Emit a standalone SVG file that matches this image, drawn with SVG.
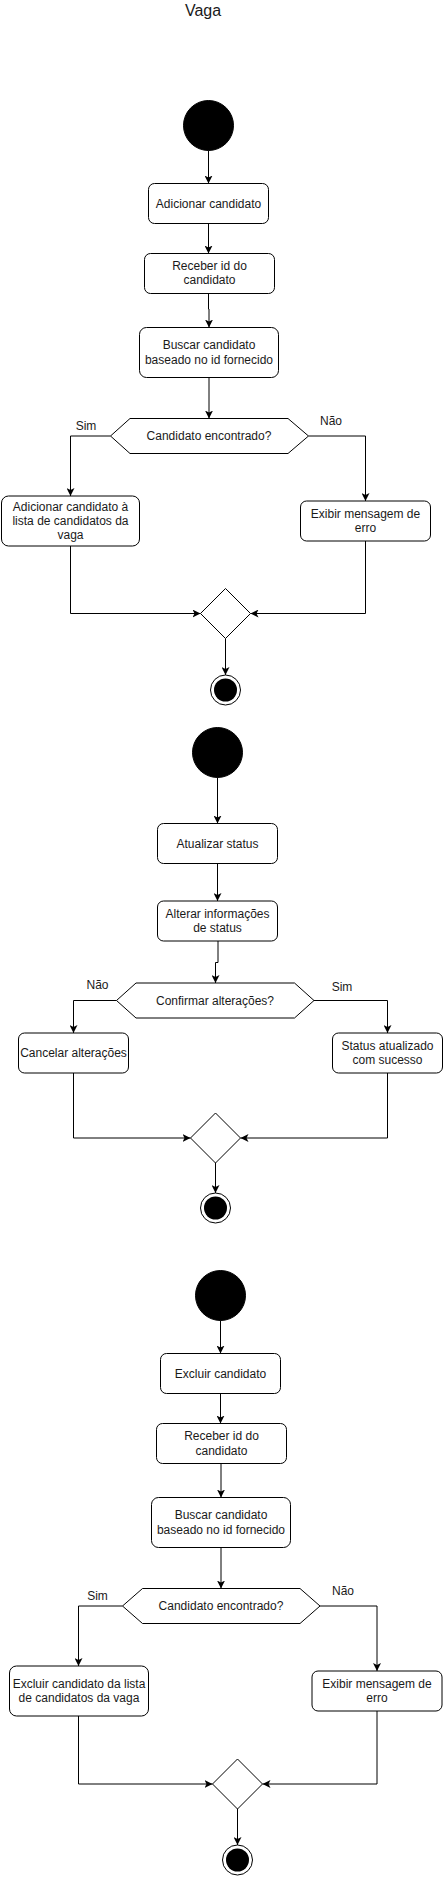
<svg xmlns="http://www.w3.org/2000/svg" width="443" height="1877" viewBox="0 0 443 1877">
<style>
.box{fill:#fff;stroke:#000;stroke-width:1}
.dec{fill:#fff;stroke:#000;stroke-width:1}
.start{fill:#000;stroke:#000;stroke-width:1}
.endo{fill:#fff;stroke:#000;stroke-width:1}
.endi{fill:#000;stroke:none}
.t{font-family:"Liberation Sans",Arial,sans-serif;font-size:12px;fill:#1a1a1a;text-anchor:middle}
.title{font-family:"Liberation Sans",Arial,sans-serif;font-size:16px;fill:#1a1a1a;text-anchor:middle}
.c{fill:none;stroke:#000;stroke-width:1}
.ca{fill:none;stroke:#000;stroke-width:1;marker-end:url(#arr)}
</style>
<defs>
<marker id="arr" markerUnits="userSpaceOnUse" viewBox="0 0 8 8" markerWidth="8" markerHeight="8" refX="8" refY="4" orient="auto">
<path d="M0,0 L8,4 L0,8 L2,4 z" fill="#000"/>
</marker>
</defs>
<rect width="443" height="1877" fill="#fff"/>
<text class="title" x="203" y="16">Vaga</text>

<g id="connectors">
<path class="ca" d="M208.5,150.5 V183.5"/>
<path class="ca" d="M208.5,223.5 V253.5"/>
<path class="ca" d="M208.5,293.5 V309 H209 V327.5"/>
<path class="ca" d="M209,377.5 V418.5"/>
<path class="ca" d="M110.5,436 H70.5 V496"/>
<path class="ca" d="M308.5,436 H365.5 V501"/>
<path class="ca" d="M70.5,546 V613.5 H200.5"/>
<path class="ca" d="M365.5,541 V613.5 H250.5"/>
<path class="ca" d="M225.5,638.5 V675"/>

<path class="ca" d="M217.5,777.5 V823.5"/>
<path class="ca" d="M217.5,863.5 V901"/>
<path class="ca" d="M218,941 V962.5 H215.5 V983"/>
<path class="ca" d="M116.5,1000.5 H73.5 V1033"/>
<path class="ca" d="M314,1000.5 H387.5 V1033"/>
<path class="ca" d="M73.5,1073 V1138 H190.5"/>
<path class="ca" d="M387.5,1073 V1138 H240.5"/>
<path class="ca" d="M215.5,1163 V1193"/>

<path class="ca" d="M220.5,1320.5 V1353.5"/>
<path class="ca" d="M220.5,1393.5 V1423.5"/>
<path class="ca" d="M221,1463.5 V1497.5"/>
<path class="ca" d="M221,1547.5 V1588.5"/>
<path class="ca" d="M122.5,1606 H78.5 V1666"/>
<path class="ca" d="M320,1606 H377 V1671"/>
<path class="ca" d="M78.5,1716 V1784 H212.5"/>
<path class="ca" d="M377,1711 V1784 H262.5"/>
<path class="ca" d="M237.5,1809 V1845"/>
</g>

<g id="labels">
<text class="t" x="86" y="430">Sim</text>
<text class="t" x="331" y="425">Não</text>
<text class="t" x="97.5" y="989">Não</text>
<text class="t" x="342" y="991">Sim</text>
<text class="t" x="97.5" y="1600">Sim</text>
<text class="t" x="343" y="1595">Não</text>
</g>

<g id="start1"><circle class="start" cx="208.5" cy="125.5" r="25"/></g>
<g id="a1"><rect class="box" x="148.5" y="183.5" width="120" height="40" rx="6"/><text class="t" x="208.5" y="207.5">Adicionar candidato</text></g>
<g id="a2"><rect class="box" x="144.5" y="253.5" width="130" height="40" rx="6"/><text class="t" x="209.5" y="269.8">Receber id do</text><text class="t" x="209.5" y="284.2">candidato</text></g>
<g id="a3"><rect class="box" x="139.5" y="327.5" width="139" height="50" rx="7"/><text class="t" x="209" y="349.3">Buscar candidato</text><text class="t" x="209" y="363.7">baseado no id fornecido</text></g>
<g id="d1"><polygon class="dec" points="110.5,436 130,418.5 288,418.5 308.5,436 288,453.5 130,453.5"/><text class="t" x="209" y="440">Candidato encontrado?</text></g>
<g id="a4"><rect class="box" x="1.5" y="496" width="138" height="50" rx="7"/><text class="t" x="70.5" y="510.6">Adicionar candidato à</text><text class="t" x="70.5" y="525">lista de candidatos da</text><text class="t" x="70.5" y="539.4">vaga</text></g>
<g id="a5"><rect class="box" x="300.5" y="501" width="130" height="40" rx="6"/><text class="t" x="365.5" y="517.8">Exibir mensagem de</text><text class="t" x="365.5" y="532.2">erro</text></g>
<g id="m1"><polygon class="dec" points="225.5,588.5 250.5,613.5 225.5,638.5 200.5,613.5"/></g>
<g id="end1"><circle class="endo" cx="225.5" cy="690" r="15"/><circle class="endi" cx="225.5" cy="690" r="11.5"/></g>

<g id="start2"><circle class="start" cx="217.5" cy="752.5" r="25"/></g>
<g id="b1"><rect class="box" x="157.5" y="823.5" width="120" height="40" rx="6"/><text class="t" x="217.5" y="847.5">Atualizar status</text></g>
<g id="b2"><rect class="box" x="157.5" y="901" width="120" height="40" rx="6"/><text class="t" x="217.5" y="917.8">Alterar informações</text><text class="t" x="217.5" y="932.2">de status</text></g>
<g id="d2"><polygon class="dec" points="116.5,1000.5 136,983 294.5,983 314,1000.5 294.5,1018 136,1018"/><text class="t" x="215" y="1004.5">Confirmar alterações?</text></g>
<g id="b3"><rect class="box" x="18.5" y="1033" width="110" height="40" rx="6"/><text class="t" x="73.5" y="1057">Cancelar alterações</text></g>
<g id="b4"><rect class="box" x="332.5" y="1033" width="110" height="40" rx="6"/><text class="t" x="387.5" y="1049.8">Status atualizado</text><text class="t" x="387.5" y="1064.2">com sucesso</text></g>
<g id="m2"><polygon class="dec" points="215.5,1113 240.5,1138 215.5,1163 190.5,1138"/></g>
<g id="end2"><circle class="endo" cx="215.5" cy="1208" r="15"/><circle class="endi" cx="215.5" cy="1208" r="11.5"/></g>

<g id="start3"><circle class="start" cx="220.5" cy="1295.5" r="25"/></g>
<g id="c1"><rect class="box" x="160.5" y="1353.5" width="120" height="40" rx="6"/><text class="t" x="220.5" y="1377.5">Excluir candidato</text></g>
<g id="c2"><rect class="box" x="156.5" y="1423.5" width="130" height="40" rx="6"/><text class="t" x="221.5" y="1440.3">Receber id do</text><text class="t" x="221.5" y="1454.7">candidato</text></g>
<g id="c3"><rect class="box" x="151.5" y="1497.5" width="139" height="50" rx="7"/><text class="t" x="221" y="1519.3">Buscar candidato</text><text class="t" x="221" y="1533.7">baseado no id fornecido</text></g>
<g id="d3"><polygon class="dec" points="122.5,1606 142.5,1588.5 300,1588.5 320,1606 300,1623.5 142.5,1623.5"/><text class="t" x="221" y="1610">Candidato encontrado?</text></g>
<g id="c4"><rect class="box" x="9.5" y="1666" width="139" height="50" rx="7"/><text class="t" x="79" y="1687.8">Excluir candidato da lista</text><text class="t" x="79" y="1702.2">de candidatos da vaga</text></g>
<g id="c5"><rect class="box" x="312" y="1671" width="130" height="40" rx="6"/><text class="t" x="377" y="1687.8">Exibir mensagem de</text><text class="t" x="377" y="1702.2">erro</text></g>
<g id="m3"><polygon class="dec" points="237.5,1759 262.5,1784 237.5,1809 212.5,1784"/></g>
<g id="end3"><circle class="endo" cx="237.5" cy="1860" r="15"/><circle class="endi" cx="237.5" cy="1860" r="11.5"/></g>
</svg>
